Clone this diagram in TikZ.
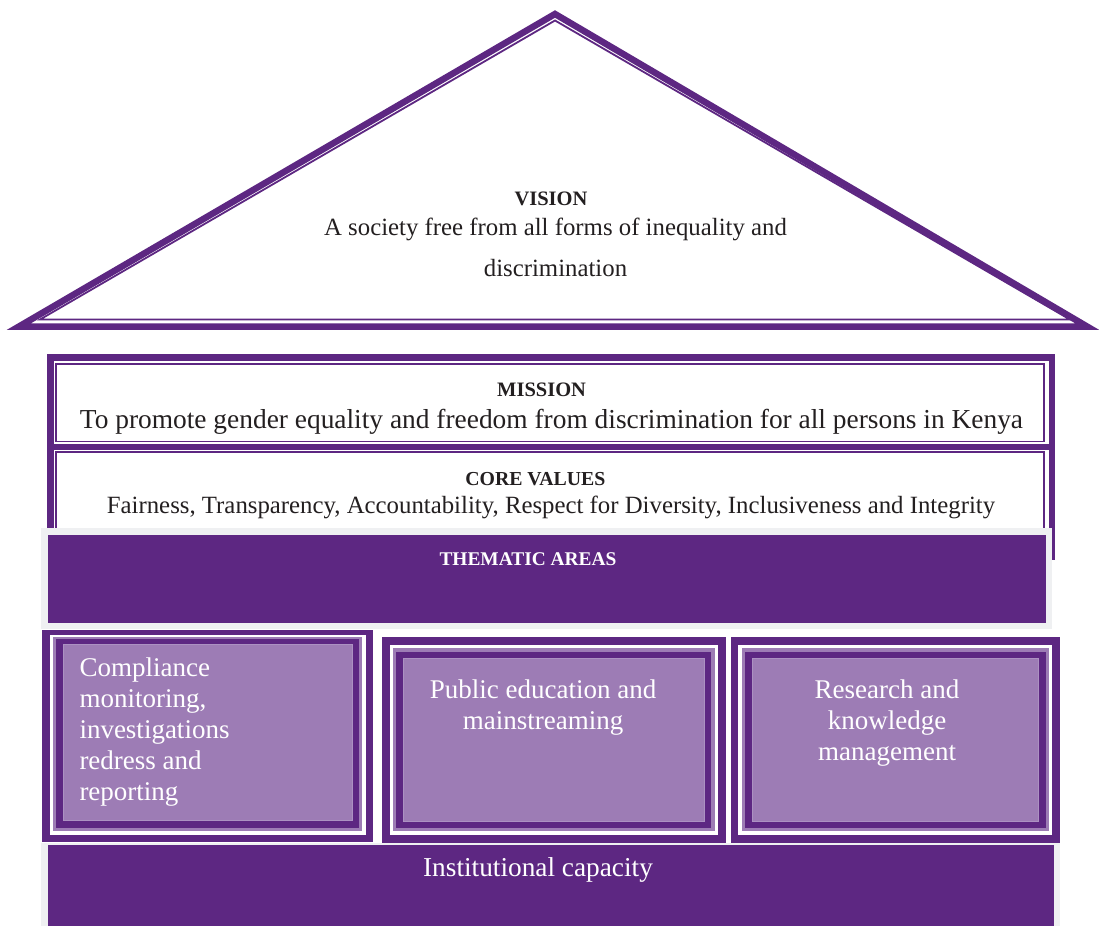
\documentclass[tikz,border=0pt]{standalone}
\usepackage{fontspec}
\setmainfont{Liberation Serif}
\definecolor{plum}{HTML}{5D2782}
\definecolor{lilac}{HTML}{9D7CB5}
\definecolor{lilacedge}{HTML}{AC91C2}
\definecolor{mist}{HTML}{EFF0F2}
\definecolor{ink}{HTML}{231F20}

\tikzset{
  title/.style={font=\fontsize{20.5}{24}\selectfont\bfseries, text=ink, anchor=base, inner sep=0pt},
  body/.style={font=\fontsize{24.8}{30}\selectfont, text=ink, anchor=base, inner sep=0pt},
  tlabel/.style={font=\fontsize{27}{31}\selectfont, text=white, anchor=base, inner sep=0pt},
  heavy/.style={draw=plum, line width=6.5pt, line join=miter},
  fine/.style={draw=plum, line width=1.8pt, line join=miter},
}

% layered frame of a thematic area: outer corners, then the insets of the fill
\newcommand{\layeredframe}[8]{%
  \fill[plum] (#1,#2) rectangle (#3,#4);
  \fill[white] ({#1+0.36*#5},{#2+0.36*#6}) rectangle ({#3-0.36*#7},{#4-0.36*#8});
  \fill[lilac] ({#1+0.52*#5},{#2+0.52*#6}) rectangle ({#3-0.52*#7},{#4-0.52*#8});
  \fill[plum] ({#1+0.67*#5},{#2+0.67*#6}) rectangle ({#3-0.67*#7},{#4-0.67*#8});
  \fill[lilac] ({#1+#5},{#2+#6}) rectangle ({#3-#7},{#4-#8});
  \draw[lilacedge, line width=0.8pt] ({#1+#5},{#2+#6}) rectangle ({#3-#7},{#4-#8});
}

\begin{document}
\begin{tikzpicture}[x=1pt,y=-1pt]
\useasboundingbox (0,0) rectangle (1100,926);
\fill[white] (0,0) rectangle (1100,926);

% roof
\draw[heavy] (555,14) -- (1087,326.5) -- (19,326.5) -- cycle;
\draw[fine] (555,20.5) -- (1070,319.5) -- (40,319.5) -- cycle;

% mission band
\draw[heavy] (50.25,357.25) rectangle (1051.75,446.75);
\draw[fine] (56,364) rectangle (1044.3,441.5);

% core values band
\draw[heavy] (50.25,446.75) rectangle (1051.75,556.75);
\draw[fine] (56,452.3) rectangle (1044.3,545);

% thematic areas header
\fill[mist] (41,528) rectangle (1052,629);
\fill[plum] (48,535) rectangle (1046,623);

% institutional capacity base
\fill[mist] (41,842.7) rectangle (1060,926);
\fill[plum] (48,845) rectangle (1054,926);

% thematic area frames
\layeredframe{42}{630}{373}{842.3}{21}{14}{20.6}{21.5}
\layeredframe{381.7}{637}{726}{842.7}{21.7}{21.7}{21.7}{21.7}
\layeredframe{730.7}{637}{1060}{842.7}{21.3}{21.7}{21.3}{21.7}

% texts
\node[title] (visiontitle) at (551,205) {VISION};
\node[body] (visionline) at (555.5,235) {A society free from all forms of inequality and};
\node[body] (visionrest) at (555.5,276) {discrimination};

\node[title] (missiontitle) at (541.6,396.7) {MISSION};
\node[body, font=\fontsize{27.4}{32}\selectfont] (missiontext) at (551.5,428) {To promote gender equality and freedom from discrimination for all persons in Kenya};

\node[title, font=\fontsize{19.8}{24}\selectfont\bfseries] (coretitle) at (535.3,485) {CORE VALUES};
\node[body] (coretext) at (551,513.3) {Fairness, Transparency, Accountability, Respect for Diversity, Inclusiveness and Integrity};

\node[title, text=white, font=\fontsize{19.4}{24}\selectfont\bfseries] (thematic) at (528,565) {THEMATIC AREAS};

% multi-line labels are anchored on the baseline of their last line
\node[tlabel, anchor=base west, align=left] (compliance) at (79.3,800)
  {Compliance\\monitoring,\\investigations\\redress and\\reporting};
\node[tlabel, align=center] (education) at (543,729.3)
  {Public education and\\mainstreaming};
\node[tlabel, align=center] (research) at (887,760)
  {Research and\\knowledge\\management};

\node[tlabel, font=\fontsize{27.3}{31}\selectfont] (capacity) at (538,876) {Institutional capacity};
\end{tikzpicture}
\end{document}
